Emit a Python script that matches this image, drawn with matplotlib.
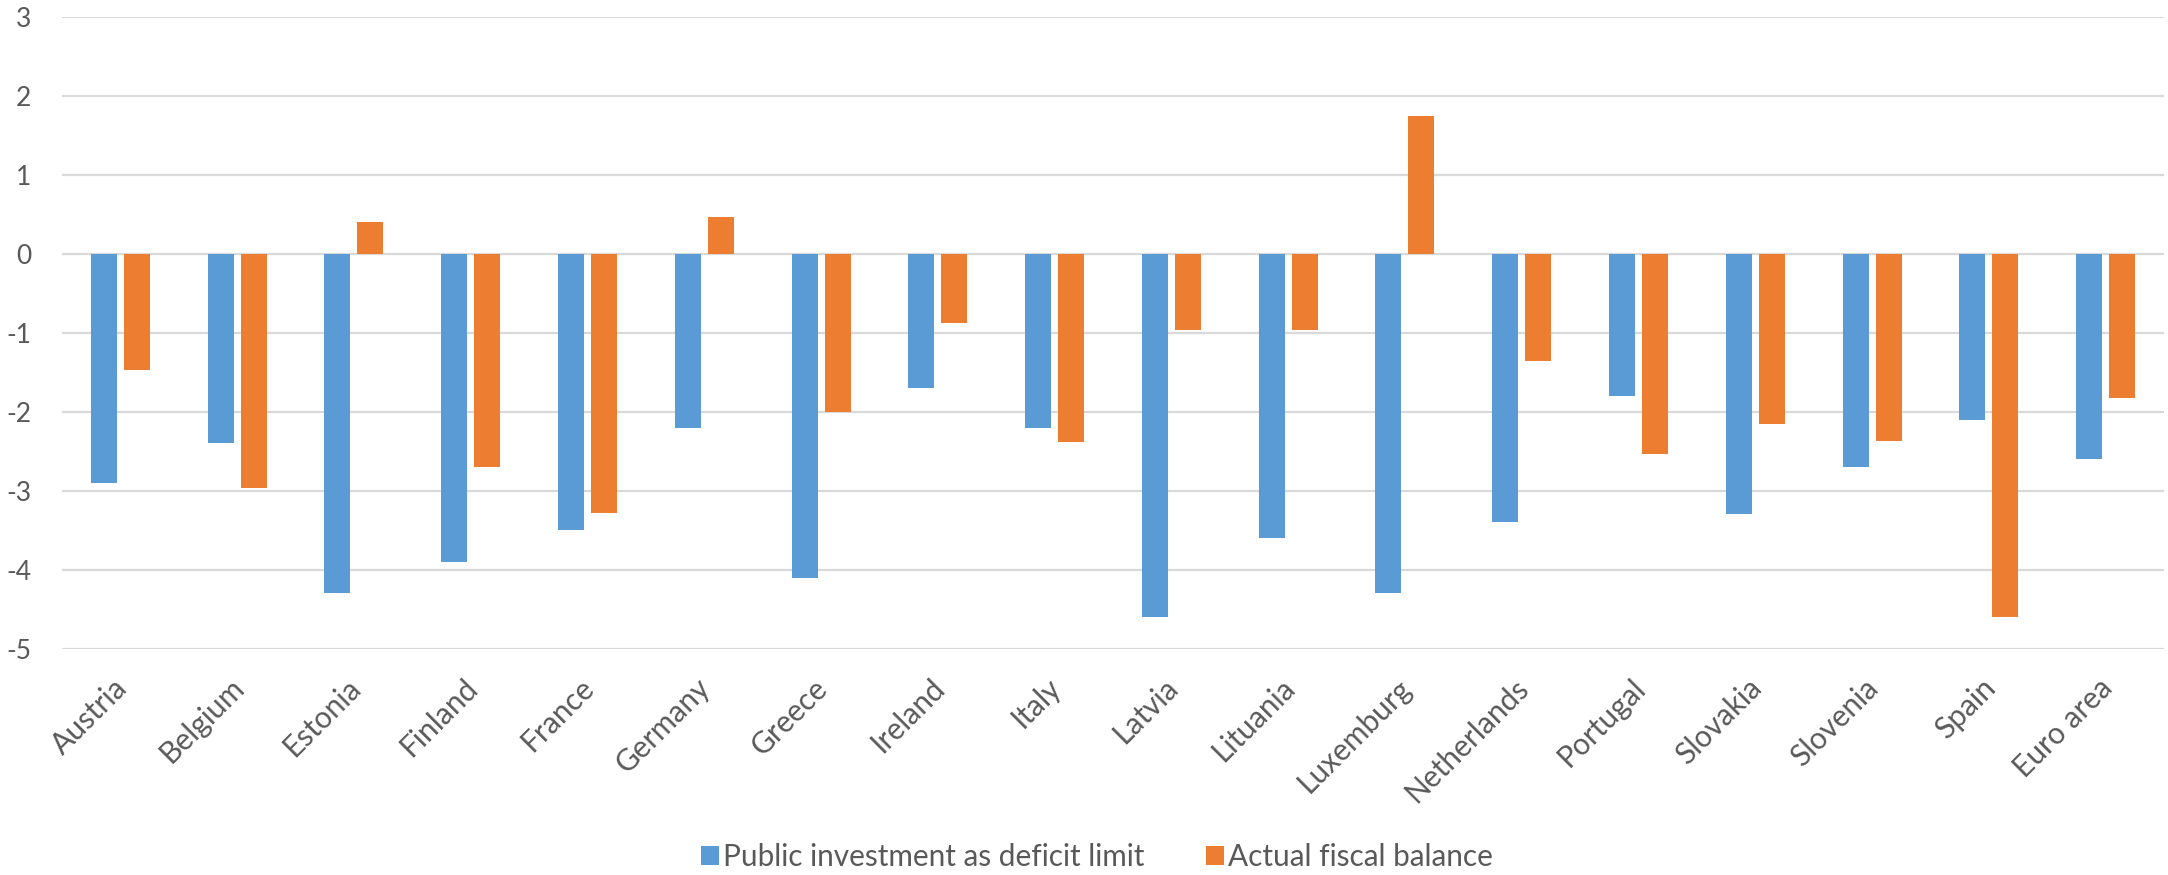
import numpy as np
import matplotlib
matplotlib.use("Agg")
import matplotlib.pyplot as plt
from matplotlib.transforms import ScaledTranslation

# ---- data ----
countries = ["Austria", "Belgium", "Estonia", "Finland", "France", "Germany",
             "Greece", "Ireland", "Italy", "Latvia", "Lituania", "Luxemburg",
             "Netherlands", "Portugal", "Slovakia", "Slovenia", "Spain", "Euro area"]
invest_limit = [-2.9, -2.4, -4.3, -3.9, -3.5, -2.2, -4.1, -1.7, -2.2, -4.6,
                -3.6, -4.3, -3.4, -1.8, -3.3, -2.7, -2.1, -2.6]
fiscal_balance = [-1.47, -2.97, 0.40, -2.70, -3.28, 0.47, -2.00, -0.88, -2.38, -0.97,
                  -0.97, 1.74, -1.36, -2.54, -2.15, -2.37, -4.60, -1.83]
yticks = [-5, -4, -3, -2, -1, 0, 1, 2, 3]

BLUE = "#5B9BD5"
ORANGE = "#ED7D31"
TEXT = "#595959"
GRID = "#D9D9D9"

plt.rcParams['font.family'] = ['Lato', 'DejaVu Sans']

fig = plt.figure(figsize=(21.68, 8.75), dpi=100)
ax = fig.add_axes([62 / 2168, 1 - 648.7 / 875, (2164 - 62) / 2168, (648.7 - 17) / 875])

x = np.arange(len(countries))
w = 0.223
off = 0.141
ax.bar(x - off, invest_limit, width=w, color=BLUE, label="Public investment as deficit limit", zorder=3)
ax.bar(x + off, fiscal_balance, width=w, color=ORANGE, label="Actual fiscal balance", zorder=3)

ax.set_xlim(-0.5, len(countries) - 0.5)
ax.set_ylim(-5, 3)
ax.set_yticks(yticks)
ax.set_yticklabels([str(v) for v in yticks])
ax.yaxis.grid(True, color=GRID, linewidth=1.6, zorder=0)
ax.set_axisbelow(True)
for s in ax.spines.values():
    s.set_visible(False)

ax.tick_params(axis='y', length=0, pad=22, labelsize=19, labelcolor=TEXT)
ax.tick_params(axis='x', length=0, pad=25, labelsize=21.5, labelcolor=TEXT)
ax.set_xticks(x)
ax.set_xticklabels(countries, rotation=45, ha='right', va='center', rotation_mode='anchor')
# nudge the rotated labels a little to the right, like the original
shift = ScaledTranslation(2 / 100, 0, fig.dpi_scale_trans)
for lab in ax.get_xticklabels():
    lab.set_transform(lab.get_transform() + shift)

leg = fig.legend(loc='center', bbox_to_anchor=(0.506, 1 - 857 / 875), ncol=2, frameon=False,
                 fontsize=21.4, handlelength=0.61, handleheight=0.61, handletextpad=0.15,
                 columnspacing=2.05)
for t in leg.get_texts():
    t.set_color(TEXT)

fig.savefig("out.png", dpi=100)
